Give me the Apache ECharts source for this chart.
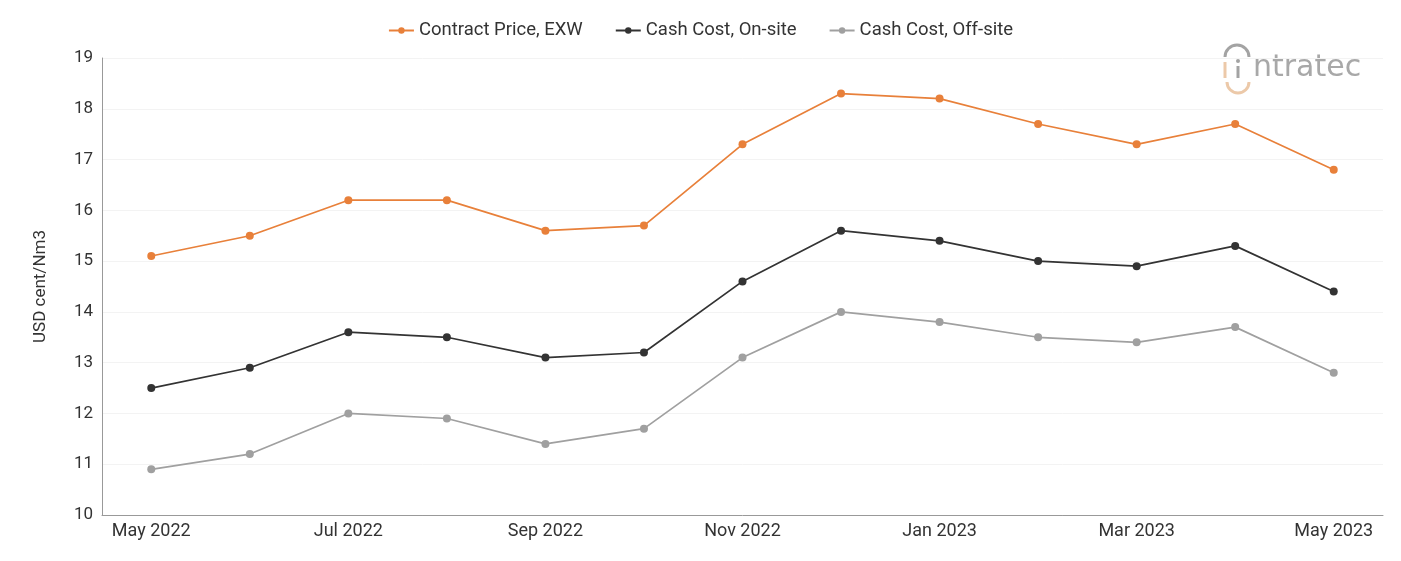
<!DOCTYPE html>
<html>
<head>
<meta charset="utf-8">
<script src="https://cdn.jsdelivr.net/npm/echarts@6/dist/echarts.min.js"></script>
<style>
  html, body { margin: 0; padding: 0; background: #fff; }
  #chart { width: 1401px; height: 561px; }
</style>
</head>
<body>
<div id="chart"></div>
<script>
// months shown on the x axis (every other label is printed)
const months = ['May 2022', 'Jun 2022', 'Jul 2022', 'Aug 2022', 'Sep 2022', 'Oct 2022', 'Nov 2022',
  'Dec 2022', 'Jan 2023', 'Feb 2023', 'Mar 2023', 'Apr 2023', 'May 2023'];
const contractPrice = [15.1, 15.5, 16.2, 16.2, 15.6, 15.7, 17.3, 18.3, 18.2, 17.7, 17.3, 17.7, 16.8];
const cashOnSite = [12.5, 12.9, 13.6, 13.5, 13.1, 13.2, 14.6, 15.6, 15.4, 15.0, 14.9, 15.3, 14.4];
const cashOffSite = [10.9, 11.2, 12.0, 11.9, 11.4, 11.7, 13.1, 14.0, 13.8, 13.5, 13.4, 13.7, 12.8];

const font = 'Roboto, "Noto Sans", sans-serif';

const mkSeries = (name, data, color) => ({
  name,
  type: 'line',
  data,
  symbol: 'circle',
  symbolSize: 8,
  lineStyle: { width: 1.7, color },
  itemStyle: { color },
});

const chart = echarts.init(document.getElementById('chart'));
chart.setOption({
  animation: false,
  textStyle: { fontFamily: font },
  legend: {
    top: 16,
    left: 'center',
    itemWidth: 25,
    itemHeight: 8,
    itemGap: 32,
    textStyle: { fontSize: 18.5, color: '#333', fontFamily: font },
  },
  grid: { left: 102, right: 18, top: 58, bottom: 46 },
  xAxis: {
    type: 'category',
    data: months,
    boundaryGap: true,
    axisLine: { lineStyle: { color: '#999' } },
    axisTick: { show: false },
    axisLabel: { interval: 1, fontSize: 18, color: '#333', margin: 7, fontFamily: font },
  },
  yAxis: {
    type: 'value',
    min: 10,
    max: 19,
    interval: 1,
    name: 'USD cent/Nm3',
    nameLocation: 'middle',
    nameGap: 53,
    nameTextStyle: { fontSize: 17, color: '#333', fontFamily: font },
    axisLine: { show: true, lineStyle: { color: '#999' } },
    axisTick: { show: false },
    axisLabel: { fontSize: 17, color: '#333', margin: 9, fontFamily: font },
    splitLine: { lineStyle: { color: '#f3f3f3' } },
  },
  graphic: [
    // intratec logo mark
    {
      type: 'arc',
      shape: { cx: 1237, cy: 57, r: 12, startAngle: Math.PI, endAngle: Math.PI * 2 },
      style: { stroke: '#a3a3a3', lineWidth: 3, fill: null },
    },
    {
      type: 'line',
      shape: { x1: 1225, y1: 62, x2: 1225, y2: 78 },
      style: { stroke: '#ecc9a9', lineWidth: 3 },
    },
    {
      type: 'circle',
      shape: { cx: 1238, cy: 61, r: 2 },
      style: { fill: '#a3a3a3' },
    },
    {
      type: 'line',
      shape: { x1: 1238, y1: 66, x2: 1238, y2: 78 },
      style: { stroke: '#a3a3a3', lineWidth: 3 },
    },
    {
      type: 'arc',
      shape: { cx: 1238, cy: 82, r: 11, startAngle: 0, endAngle: Math.PI },
      style: { stroke: '#ecc9a9', lineWidth: 3, fill: null },
    },
    {
      type: 'text',
      x: 1253,
      y: 68,
      style: {
        text: 'ntratec', fontSize: 30, fill: '#a8a8a8', verticalAlign: 'middle',
        fontFamily: '"DejaVu Sans", sans-serif',
      },
    },
  ],
  series: [
    mkSeries('Contract Price, EXW', contractPrice, '#e8803a'),
    mkSeries('Cash Cost, On-site', cashOnSite, '#333333'),
    mkSeries('Cash Cost, Off-site', cashOffSite, '#a0a0a0'),
  ],
});
</script>
</body>
</html>
